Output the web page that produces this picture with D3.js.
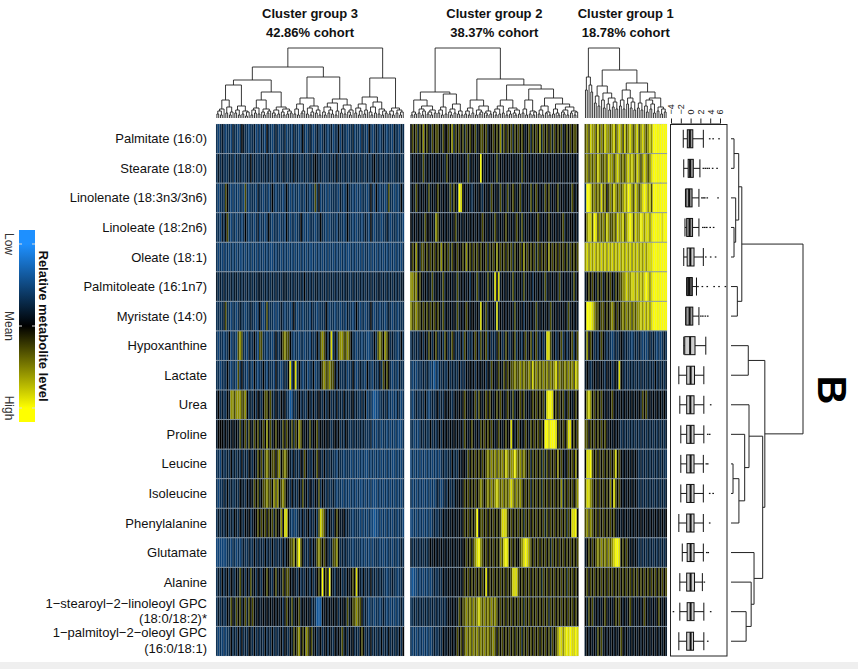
<!DOCTYPE html>
<html>
<head>
<meta charset="utf-8">
<script src="https://cdn.jsdelivr.net/npm/d3@7"></script>
<style>
body { margin: 0; background: #fff; }
svg { display: block; font-family: "Liberation Sans", Arial, sans-serif; }
</style>
</head>
<body>
<svg width="858" height="669"></svg>
<script>
// rows of the heatmap, top to bottom
const metabolites = [
  "Palmitate (16:0)", "Stearate (18:0)", "Linolenate (18:3n3/3n6)", "Linoleate (18:2n6)",
  "Oleate (18:1)", "Palmitoleate (16:1n7)", "Myristate (14:0)", "Hypoxanthine", "Lactate",
  "Urea", "Proline", "Leucine", "Isoleucine", "Phenylalanine", "Glutamate", "Alanine",
  "1\u2212stearoyl\u22122\u2212linoleoyl GPC\n(18:0/18:2)*",
  "1\u2212palmitoyl\u22122\u2212oleoyl GPC\n(16:0/18:1)"
];

const clusterNames = ["Cluster group 3", "Cluster group 2", "Cluster group 1"];
const cohortLabels = ["42.86% cohort", "38.37% cohort", "18.78% cohort"];

// relative level per subject, low (blue) .. 4 = mean (black) .. 8 = high (yellow)
const group3Levels = [
  "21232 12213 22124 32212 23121 32142 21232 12231 22132 21242 12321 23212 32123 12241 32212 23122 13221 42123 21232 12213 22132",
  "23232 22323 13232 22324 23222 32323 23123 22332 23242 32223 22323 43232 22232 32423 22322 32232 23223 22342 32232 23222 32322",
  "21222 54212 12122 15212 22132 21221 24212 22124 21212 21221 32122 52412 21212 22213 21242 21212 12221 24214 21221 25221 21242",
  "22132 45212 21221 24212 21231 22124 21222 12214 21221 22421 21222 12242 21212 22132 21242 21212 21232 14212 22122 32122 21221",
  "21212 12121 21211 21212 12121 21212 11212 21212 12121 21212 12112 12121 21212 12121 21211 21212 12122 12121 21212 12121 21212",
  "32323 23232 33232 32323 23233 32323 23232 32333 23232 32324 23232 33232 32323 23232 32332 23232 32323 23232 33232 32323 23233",
  "22223 52212 21232 21223 22124 21252 22121 23212 21242 12212 22132 21222 24212 21221 22132 21242 12212 24212 21221 23212 21222",
  "21221 22412 21565 22132 24215 52212 21242 24565 54212 21221 22132 24256 54247 24256 65565 42212 21221 12242 56546 54232 21242",
  "22122 24212 21524 22132 14212 24213 22142 21232 47247 24212 31224 12245 65565 54242 22312 24212 32214 22132 24254 54212 21322",
  "34232 24366 56665 56423 24243 24554 53243 24342 20132 34232 24324 23432 42342 32423 24232 34232 23241 22101 12232 31212 13212",
  "34443 43434 34353 45354 35453 45464 53454 43545 43535 46543 43534 45343 43432 34342 32432 23232 32322 23121 22122 12121 21112",
  "22132 23242 32324 23243 24354 53565 45545 64565 43242 32435 42324 35432 42323 22132 21222 12121 21211 21212 12121 21211 21212",
  "21223 24232 23243 32434 35453 45565 54656 45654 32423 24353 42432 43524 32322 32122 12121 21212 11212 12111 21212 12121 21212",
  "23232 34232 43243 24342 34454 54545 45354 46477 42121 23242 34232 42576 54243 24543 34232 21222 12121 21101 12121 21212 21221",
  "11111 12212 21212 32232 24232 32423 24232 32424 45564 68542 32424 35654 54323 55642 32322 21222 21212 12122 21212 12212 21232",
  "23242 34243 24353 42435 34243 24454 32453 43545 54343 24232 43242 34548 45484 32434 23243 45474 32423 24232 32322 12232 21223",
  "23232 24354 35453 45354 54343 34343 43434 34245 43534 45343 43423 20004 34343 43424 34353 45565 54232 12212 21232 12121 21232",
  "21212 12242 32424 23243 24232 32423 24232 34243 24354 56454 65453 42342 34243 24343 53424 34232 45423 24232 32423 24232 32424"
];
const group2Levels = [
  "45453 54645 43545 54354 45463 54545 35454 45345 54534 45454 63545 45354 54543 45354 54635 45453 54545 34545 4554",
  "34343 43534 34343 43433 54343 34343 43534 34348 43434 34353 43434 34343 43534 34343 43434 34343 43434 34343 4343",
  "34354 34343 53434 54343 43535 43874 43432 34343 24343 54343 53435 34543 45343 43534 54343 54534 34534 34343 5434",
  "43434 34354 43436 54343 43434 53434 34343 43434 54343 43543 43454 34345 43534 34343 45434 34543 43434 53434 4343",
  "45464 35545 45454 54645 45354 45445 46454 54545 44535 45464 54545 45354 45464 54545 35454 54645 45454 54535 4545",
  "66564 54343 43534 34353 43434 35343 43424 43534 34353 43747 34343 43534 34353 43424 34343 53434 34353 43434 3534",
  "65565 54545 45454 54353 43434 35343 45434 43437 43534 34373 43434 34353 43424 34343 53434 34353 43434 34353 4343",
  "23232 34243 54245 32425 42354 23242 54232 45425 34524 23245 42354 23452 43245 34524 53242 37753 42345 24234 5245",
  "21212 22323 21202 13232 24232 32423 24343 42434 34243 54345 43545 45565 56565 56575 65656 56565 67565 56565 6576",
  "21232 23242 12323 42324 34323 43434 54343 45354 34545 43454 54345 43534 45453 43454 54545 37887 45454 53454 3454",
  "22121 23232 24232 34243 43434 34343 54345 43435 45454 54345 43454 47434 54345 43545 45454 88788 87454 54577 4545",
  "12121 21212 12121 21232 23242 32434 43545 45454 54565 65656 56576 56686 56565 45354 54535 35454 54645 43454 5464",
  "21212 12121 21212 32123 24232 43434 54545 45456 54565 65676 56565 67656 56545 45354 54535 45454 54546 35454 5456",
  "11212 12121 21232 23243 34343 43434 54545 45845 54545 45454 57775 45454 54535 45454 54545 35454 54545 45354 7784",
  "32323 23232 34343 43434 34343 43434 45454 56786 54545 45454 65787 45454 45678 76545 45454 54535 45454 54545 4545",
  "10112 12121 21232 23243 34343 43434 54545 45454 54745 45454 54545 45777 54545 45454 54535 45454 54545 45354 5454",
  "22323 23232 32323 23232 34343 43545 56565 65676 56565 65654 54545 45454 54535 45454 54545 45354 54545 45454 5454",
  "21212 12121 21232 23243 34343 45454 56565 65656 56565 56545 45454 54545 45354 54545 45454 54535 45677 67878 7787"
];
const group1Levels = [
  "56576 65756 57665 67567 65756 76567 56765 67688 88888 8",
  "56565 65765 56576 65676 56567 67657 65676 56788 88888 8",
  "28875 65657 56456 57656 56768 76576 56787 67588 88888 8",
  "46775 87565 65765 56576 67567 87576 68767 76788 88878 8",
  "67676 76767 67676 76767 67676 76767 67676 77788 88888 8",
  "34545 43545 34545 43545 56676 67767 67678 76788 88888 8",
  "48887 65545 54545 65454 56565 65656 67676 76788 88888 8",
  "36454 23245 43232 12323 43232 21232 32121 23232 12123 2",
  "34323 43434 32434 23437 43232 32323 23232 32324 23232 3",
  "46764 54545 43434 54343 43434 34343 43545 34343 43434 3",
  "55454 54545 45434 34343 23232 32323 23232 32323 23232 3",
  "47785 45454 54545 45745 43434 34343 23232 32323 23232 2",
  "57765 45454 54546 47545 43434 34343 23232 32323 23232 3",
  "56565 45454 54545 45434 34343 43434 34343 43434 34343 4",
  "34545 45656 56565 67887 45454 34343 23232 32323 23232 3",
  "45454 54545 45454 54545 45454 54545 45454 54545 45454 5",
  "43545 34343 45434 34545 43434 54343 43454 34343 45434 3",
  "34343 43545 34343 43434 54343 34343 43434 34343 43434 3"
];

// merge height between neighbouring subjects (column dendrograms)
const group3Gaps = [4, 7, 3, 9, 18, 5, 11, 3, 6, 33, 5, 8, 3, 12, 4, 7, 2, 6, 38,
  3, 8, 5, 10, 4, 18, 6, 3, 9, 5, 7, 26, 5, 3, 8, 4, 11, 6, 3, 9, 4, 7, 5, 51,
  4, 9, 3, 14, 5, 7, 20, 4, 10, 3, 6, 12, 5, 8, 3, 41,
  6, 3, 11, 5, 8, 4, 15, 3, 7, 19, 5, 9, 4, 13, 6, 3, 8, 70,
  5, 10, 3, 7, 14, 4, 8, 21, 6, 3, 11, 5, 16, 4, 9, 3, 7, 5, 40,
  4, 7, 3, 10, 5, 8, 3, 6];
const group2Gaps = [3, 6, 4, 18, 5, 9, 3, 7, 12, 4, 6, 3, 8, 5, 26,
  5, 8, 3, 11, 4, 24, 6, 3, 9, 5, 14, 4, 7, 3, 70,
  4, 7, 3, 10, 5, 18, 3, 8, 4, 6, 12, 5, 3, 7, 4, 39,
  6, 3, 9, 4, 12, 5, 18, 3, 7, 4, 10, 5, 3, 8, 4, 33,
  5, 9, 3, 18, 4, 7, 3, 6, 29,
  4, 8, 3, 12, 5, 6, 3, 20, 4, 9, 5, 3, 14, 6, 4, 8, 3, 11, 5, 7, 3, 6];
const group1Gaps = [28, 41, 33, 26, 70,
  15, 22, 12, 32, 18, 10, 25, 14, 8, 20, 11, 16, 9, 48,
  12, 18, 9, 28, 14, 20, 10, 16, 8, 35,
  10, 15, 8, 26, 12, 6, 18, 9, 14, 5, 20, 7, 11, 4, 9, 6];

// row dendrogram: [left, right, height], leaves are row indices
const rowTree = [
  [[[0, 1, 0.42], [2, [3, 4, 0.42], 0.65], 1.07], [5, 6, 0.88], 1.5],
  [[7, 8, 2.4],
   [[9, [10, [[11, 12, 0.28], 13, 1.1], 1.9], 2.5],
    [14, [15, [16, 17, 2.1], 2.8], 3.2], 4.4], 4.7],
  10
];

// boxplots: [lower whisker, q1, median, q3, upper whisker]
const boxStats = [
  [-1.5, -0.67, -0.15, 0.45, 2.6], [-1.4, -0.5, -0.1, 0.55, 1.9], [-1.05, -0.95, -0.3, 0.3, 1.7],
  [-1.15, -0.8, -0.2, 0.4, 1.7], [-1.4, -0.7, -0.05, 0.7, 2.6], [-0.8, -0.75, -0.3, 0.35, 1.2],
  [-1.0, -0.95, -0.2, 0.45, 1.7], [-1.4, -1.2, -0.1, 0.9, 3.1], [-2.4, -0.8, 0.0, 0.8, 2.7],
  [-2.2, -0.8, -0.05, 0.7, 2.7], [-2.0, -0.8, 0.0, 0.7, 2.7], [-2.0, -0.8, 0.0, 0.7, 2.6],
  [-2.0, -0.8, 0.0, 0.7, 2.6], [-2.4, -0.8, 0.0, 0.7, 2.6], [-1.7, -0.7, 0.0, 0.7, 2.6],
  [-2.2, -0.8, 0.0, 0.8, 2.4], [-2.2, -0.7, 0.0, 0.7, 2.7], [-2.4, -0.8, 0.0, 0.6, 2.7]
];
const boxOutliers = [
  [3.9, 4.6, 5.8], [2.6, 3.0, 3.4, 3.8, 4.5, 5.4], [2.3, 2.6, 2.9, 3.4, 5.6], [2.5, 2.9, 3.3, 4.0, 4.7],
  [3.1, 4.1, 5.1], [1.5, 2.4, 3.4, 4.8, 5.8, 7.1], [2.1, 2.5, 3.0, 3.5], [], [], [4.1], [3.5, 3.9],
  [3.2, 3.5], [3.9, 4.6], [3.9], [3.3, 3.6], [2.8], [-3.5, 4.1], [3.5]
];
const boxTicks = [-4, -2, 0, 2, 4, 6];
const legendLabels = ["Low", "Mean", "High"];
const legendLevels = [-2.5, 4, 7.5];

const svg = d3.select("svg");

// bottom grey strip of the page
svg.append("rect").attr("x", 0).attr("y", 662).attr("width", 858).attr("height", 7).attr("fill", "#efefef");

const groups = [group3Levels, group2Levels, group1Levels]
  .map(rows => rows.map(s => s.replace(/ /g, "").split("").map(Number)));
const sizes = groups.map(g => g[0].length);
const total = d3.sum(sizes);
const left = 216, right = 667, gap = 6;
const cw = (right - left - gap * (sizes.length - 1)) / total;
const xs = sizes.map((n, i) => {
  const x0 = left + d3.sum(sizes.slice(0, i)) * cw + i * gap;
  return d3.scaleLinear().domain([0, n]).range([x0, x0 + n * cw]);
});

const y = d3.scaleBand().domain(metabolites).range([124, 656]);
const color = d3.scaleLinear().domain(legendLevels).range(["#1e90ff", "#000000", "#ffff00"]).clamp(true);

// heatmap
groups.forEach((g, ci) => {
  const x = xs[ci];
  const cells = g.flatMap((row, ri) => row.map((v, j) => ({ ri, j, v })));
  const gg = svg.append("g");
  gg.selectAll("rect").data(cells).join("rect")
    .attr("x", d => x(d.j)).attr("y", d => y(metabolites[d.ri]))
    .attr("width", cw).attr("height", y.bandwidth())
    .attr("fill", d => color(d.v))
    .attr("stroke", "#8a9db0").attr("stroke-opacity", 0.35).attr("stroke-width", 0.35);
  gg.selectAll("line").data(metabolites.slice(1)).join("line")
    .attr("x1", x.range()[0]).attr("x2", x.range()[1])
    .attr("y1", d => y(d)).attr("y2", d => y(d))
    .attr("stroke", "#8797a8").attr("stroke-width", 0.9);
});

// column dendrograms
function buildTree(gaps, lo, hi) {
  if (lo === hi) return { leaf: lo, h: 0 };
  let k = lo;
  for (let i = lo; i < hi; i++) if (gaps[i] > gaps[k]) k = i;
  return { h: gaps[k], l: buildTree(gaps, lo, k), r: buildTree(gaps, k + 1, hi) };
}
function place(node, pos) {
  if (node.leaf !== undefined) { node.p = pos(node.leaf); return; }
  place(node.l, pos); place(node.r, pos);
  node.p = (node.l.p + node.r.p) / 2;
}
function internals(node, out) {
  if (node.leaf === undefined) { out.push(node); internals(node.l, out); internals(node.r, out); }
  return out;
}

[group3Gaps, group2Gaps, group1Gaps].forEach((gaps, ci) => {
  const root = buildTree(gaps, 0, sizes[ci] - 1);
  place(root, j => xs[ci](j + 0.5));
  const hy = d3.scaleLinear().domain([0, d3.max(gaps)]).range([118, 48]);
  svg.append("g").selectAll("path").data(internals(root, [])).join("path")
    .attr("d", n => `M${n.l.p},${hy(n.l.h)}V${hy(n.h)}H${n.r.p}V${hy(n.r.h)}`)
    .attr("fill", "none").attr("stroke", "#222").attr("stroke-width", 0.9);

  const cx = (xs[ci].range()[0] + xs[ci].range()[1]) / 2;
  const t = svg.append("text").attr("x", cx).attr("text-anchor", "middle")
    .attr("font-size", 13).attr("font-weight", "bold").attr("fill", "#111");
  t.append("tspan").attr("x", cx).attr("y", 17.5).text(clusterNames[ci]);
  t.append("tspan").attr("x", cx).attr("y", 36.5).text(cohortLabels[ci]);
});

// row labels
metabolites.forEach(m => {
  const lines = m.split("\n");
  const cy = y(m) + y.bandwidth() / 2;
  const t = svg.append("text").attr("text-anchor", "end").attr("font-size", 13).attr("fill", "#111");
  lines.forEach((ln, i) => {
    const off = lines.length === 1 ? 0 : (i === 0 ? -8.5 : 7);
    t.append("tspan").attr("x", 207).attr("y", cy + off).attr("dy", "0.35em").text(ln);
  });
});

// boxplots
const bx = d3.scaleLinear().domain([-4, 6]).range([671, 720]);
svg.append("rect").attr("x", 670.5).attr("y", 124.5).attr("width", 56.5).attr("height", 531.5)
  .attr("fill", "none").attr("stroke", "#222").attr("stroke-width", 1);
const ax = svg.append("g").attr("transform", "translate(0,123.5)")
  .call(d3.axisTop(bx).tickValues(boxTicks).tickSize(5).tickSizeOuter(0));
ax.select(".domain").attr("stroke", "#222");
ax.selectAll(".tick line").attr("stroke", "#222");
ax.selectAll(".tick text")
  .attr("transform", "rotate(-90)").attr("x", 9).attr("y", 0).attr("dy", "0.32em")
  .attr("text-anchor", "start").attr("font-size", 9).attr("fill", "#222")
  .text(d => d < 0 ? "\u2212" + Math.abs(d) : d);

const boxG = svg.append("g").attr("stroke", "#111").attr("stroke-width", 1);
boxStats.forEach((s, i) => {
  const cy = y(metabolites[i]) + y.bandwidth() / 2;
  const hb = 9;
  const fill = i === 5 ? "#555" : (i < 7 && i !== 4 ? "#999" : "#cfcfcf");
  boxG.append("line").attr("x1", bx(s[0])).attr("x2", bx(s[1])).attr("y1", cy).attr("y2", cy);
  boxG.append("line").attr("x1", bx(s[3])).attr("x2", bx(s[4])).attr("y1", cy).attr("y2", cy);
  [s[0], s[4]].forEach(v => boxG.append("line").attr("x1", bx(v)).attr("x2", bx(v))
    .attr("y1", cy - hb).attr("y2", cy + hb));
  boxG.append("rect").attr("x", bx(s[1])).attr("y", cy - hb)
    .attr("width", bx(s[3]) - bx(s[1])).attr("height", 2 * hb).attr("fill", fill);
  boxG.append("line").attr("x1", bx(s[2])).attr("x2", bx(s[2]))
    .attr("y1", cy - hb).attr("y2", cy + hb).attr("stroke-width", 2);
  boxG.selectAll(null).data(boxOutliers[i]).join("rect")
    .attr("x", d => bx(d) - 0.8).attr("y", cy - 0.6).attr("width", 1.6).attr("height", 1.2)
    .attr("fill", "#111").attr("stroke", "none");
});

// row dendrogram
const rx = d3.scaleLinear().domain([0, 10]).range([731, 803]);
function rowNode(t) {
  if (typeof t === "number") return { leaf: t, h: 0, p: y(metabolites[t]) + y.bandwidth() / 2 };
  const l = rowNode(t[0]), r = rowNode(t[1]);
  return { h: t[2], l, r, p: (l.p + r.p) / 2 };
}
const rroot = rowNode(rowTree);
svg.append("g").selectAll("path").data(internals(rroot, [])).join("path")
  .attr("d", n => `M${rx(n.l.h)},${n.l.p}H${rx(n.h)}V${n.r.p}H${rx(n.r.h)}`)
  .attr("fill", "none").attr("stroke", "#222").attr("stroke-width", 1);

// legend
const ly = d3.scaleLinear().domain(legendLevels).range([244, 326, 408]);
const barTop = 230, barBot = 422;
const grad = svg.append("defs").append("linearGradient").attr("id", "lg")
  .attr("x1", 0).attr("x2", 0).attr("y1", 0).attr("y2", 1);
grad.selectAll("stop").data(legendLevels).join("stop")
  .attr("offset", d => (ly(d) - barTop) / (barBot - barTop))
  .attr("stop-color", d => color(d));
svg.append("rect").attr("x", 19).attr("y", barTop).attr("width", 16).attr("height", barBot - barTop)
  .attr("fill", "url(#lg)");
legendLevels.forEach((v, i) => {
  [[19, 22], [32, 35]].forEach(([a, b]) => svg.append("line")
    .attr("x1", a).attr("x2", b).attr("y1", ly(v)).attr("y2", ly(v))
    .attr("stroke", "#ddd").attr("stroke-width", 1));
  svg.append("text").attr("transform", `translate(9,${ly(v)}) rotate(90)`)
    .attr("text-anchor", "middle").attr("dy", "0.35em").attr("font-size", 12).attr("fill", "#333")
    .text(legendLabels[i]);
});
svg.append("text").attr("transform", `translate(44,${ly(4)}) rotate(90)`)
  .attr("text-anchor", "middle").attr("dy", "0.35em").attr("font-size", 13)
  .attr("font-weight", "bold").attr("fill", "#111").text("Relative metabolite level");

// panel letter
svg.append("text").attr("transform", "translate(832,390) rotate(90)")
  .attr("text-anchor", "middle").attr("dy", "0.35em").attr("font-size", 40)
  .attr("font-weight", "bold").attr("fill", "#000").text("B");
</script>
</body>
</html>
